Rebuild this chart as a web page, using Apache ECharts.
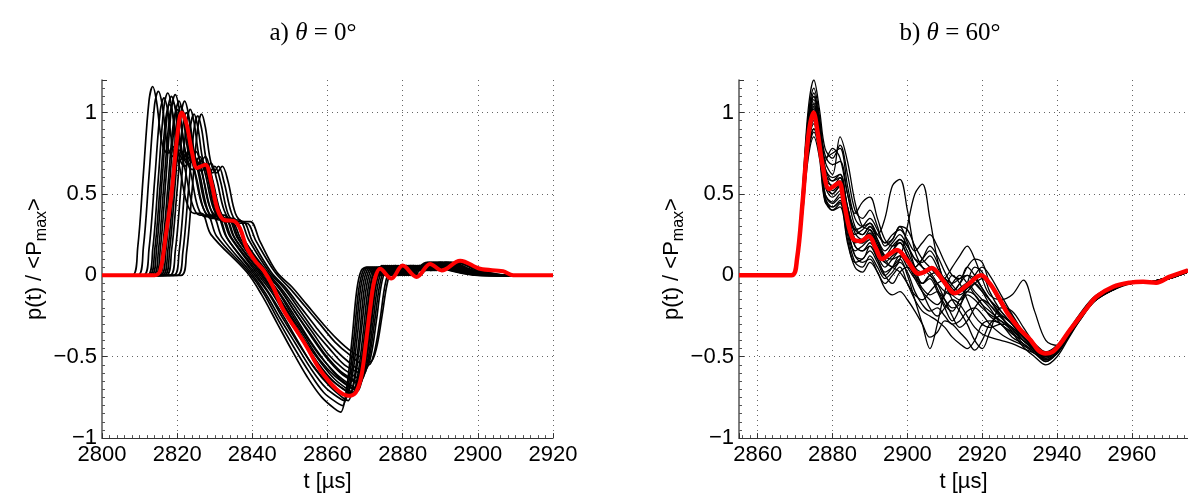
<!DOCTYPE html>
<html><head><meta charset="utf-8">
<script src="https://cdn.jsdelivr.net/npm/echarts@6/dist/echarts.min.js"></script>
<style>html,body{margin:0;padding:0;background:#fff}#c{width:1188px;height:498px}</style>
</head><body><div id="c"></div><script>
// ---------- Panel a) theta = 0 deg : individual records (t [us], p/<Pmax>) ----------
const left01=[[2800,0],[2808,0],[2809.5,0.17],[2811,0.62],[2812.5,1.07],[2813.5,1.16],[2814.5,1.07],[2816,0.81],[2817.5,0.75],[2819,0.79],[2820.5,0.68],[2822.5,0.45],[2824.5,0.38],[2826.5,0.38],[2829,0.25],[2838.5,0.02],[2842.5,-0.12],[2846.5,-0.29],[2850.5,-0.46],[2854.5,-0.62],[2858.5,-0.75],[2862.5,-0.83],[2863.5,-0.84],[2865,-0.71],[2866.5,-0.40],[2867.8,-0.09],[2869,0.03],[2870.5,0.05],[2872.5,0],[2874.5,0.06],[2876.5,0],[2879.5,0.06],[2882.5,0.03],[2886.5,0.08],[2892.5,0.03],[2900.5,0],[2920,0]];
const left02=[[2800,0],[2809.5,0],[2811,0.17],[2812.5,0.61],[2814,1.05],[2815,1.13],[2816,1.05],[2817.5,0.79],[2819,0.73],[2820.5,0.77],[2822,0.66],[2824,0.44],[2826,0.37],[2828,0.37],[2830.5,0.24],[2839,0.02],[2843,-0.11],[2847,-0.28],[2851,-0.44],[2855,-0.59],[2859,-0.72],[2863,-0.79],[2864,-0.80],[2865.5,-0.68],[2867,-0.39],[2868.3,-0.09],[2869.5,0.03],[2871,0.05],[2873,0],[2875,0.06],[2877,0],[2880,0.06],[2883,0.03],[2887,0.08],[2893,0.03],[2901,0],[2920,0]];
const left03=[[2800,0],[2811,0],[2812.5,0.16],[2814,0.58],[2815.5,1.01],[2816.5,1.09],[2817.5,1.01],[2819,0.76],[2820.5,0.70],[2822,0.74],[2823.5,0.64],[2825.5,0.42],[2827.5,0.36],[2829.5,0.36],[2832,0.23],[2839.5,0.02],[2843.5,-0.11],[2847.5,-0.27],[2851.5,-0.42],[2855.5,-0.57],[2859.5,-0.69],[2863.5,-0.76],[2864.5,-0.77],[2866,-0.66],[2867.5,-0.37],[2868.8,-0.08],[2870,0.03],[2871.5,0.05],[2873.5,0],[2875.5,0.06],[2877.5,0],[2880.5,0.06],[2883.5,0.03],[2887.5,0.08],[2893.5,0.03],[2901.5,0],[2920,0]];
const left04=[[2800,0],[2812,0],[2813.5,0.16],[2815,0.60],[2816.5,1.04],[2817.5,1.12],[2818.5,1.04],[2820,0.78],[2821.5,0.72],[2823,0.76],[2824.5,0.65],[2826.5,0.44],[2828.5,0.37],[2830.5,0.37],[2833,0.24],[2840,0.02],[2844,-0.10],[2848,-0.26],[2852,-0.41],[2856,-0.55],[2860,-0.66],[2864,-0.73],[2865,-0.74],[2866.5,-0.63],[2868,-0.36],[2869.3,-0.08],[2870.5,0.03],[2872,0.05],[2874,0],[2876,0.06],[2878,0],[2881,0.06],[2884,0.03],[2888,0.08],[2894,0.03],[2902,0],[2920,0]];
const left05=[[2800,0],[2812.5,0],[2814,0.15],[2815.5,0.56],[2817,0.97],[2818,1.05],[2819,0.97],[2820.5,0.73],[2822,0.67],[2823.5,0.71],[2825,0.61],[2827,0.41],[2829,0.35],[2831,0.35],[2833.5,0.22],[2840.5,0.02],[2844.5,-0.11],[2848.5,-0.26],[2852.5,-0.42],[2856.5,-0.57],[2860.5,-0.68],[2864.5,-0.76],[2865.5,-0.77],[2867,-0.65],[2868.5,-0.37],[2869.8,-0.08],[2871,0.03],[2872.5,0.05],[2874.5,0],[2876.5,0.06],[2878.5,0],[2881.5,0.06],[2884.5,0.03],[2888.5,0.08],[2894.5,0.03],[2902.5,0],[2920,0]];
const left06=[[2800,0],[2813,0],[2814.5,0.16],[2816,0.59],[2817.5,1.02],[2818.5,1.10],[2819.5,1.02],[2821,0.77],[2822.5,0.71],[2824,0.75],[2825.5,0.64],[2827.5,0.43],[2829.5,0.36],[2831.5,0.36],[2834,0.24],[2841,0.02],[2845,-0.10],[2849,-0.25],[2853,-0.39],[2857,-0.53],[2861,-0.64],[2865,-0.71],[2866,-0.72],[2867.5,-0.61],[2869,-0.34],[2870.3,-0.08],[2871.5,0.03],[2873,0.05],[2875,0],[2877,0.06],[2879,0],[2882,0.06],[2885,0.03],[2889,0.08],[2895,0.03],[2903,0],[2920,0]];
const left07=[[2800,0],[2813.5,0],[2815,0.15],[2816.5,0.57],[2818,0.98],[2819,1.06],[2820,0.98],[2821.5,0.74],[2823,0.68],[2824.5,0.72],[2826,0.62],[2828,0.41],[2830,0.35],[2832,0.35],[2834.5,0.23],[2841.5,0.02],[2845.5,-0.10],[2849.5,-0.25],[2853.5,-0.40],[2857.5,-0.54],[2861.5,-0.65],[2865.5,-0.72],[2866.5,-0.73],[2868,-0.62],[2869.5,-0.35],[2870.8,-0.08],[2872,0.03],[2873.5,0.05],[2875.5,0],[2877.5,0.06],[2879.5,0],[2882.5,0.06],[2885.5,0.03],[2889.5,0.08],[2895.5,0.03],[2903.5,0],[2920,0]];
const left08=[[2800,0],[2814,0],[2815.5,0.16],[2817,0.59],[2818.5,1.03],[2819.5,1.11],[2820.5,1.03],[2822,0.78],[2823.5,0.71],[2825,0.76],[2826.5,0.65],[2828.5,0.43],[2830.5,0.37],[2832.5,0.37],[2835,0.24],[2842,0.02],[2846,-0.10],[2850,-0.24],[2854,-0.38],[2858,-0.52],[2862,-0.62],[2866,-0.69],[2867,-0.70],[2868.5,-0.60],[2870,-0.34],[2871.3,-0.08],[2872.5,0.03],[2874,0.05],[2876,0],[2878,0.06],[2880,0],[2883,0.06],[2886,0.03],[2890,0.08],[2896,0.03],[2904,0],[2920,0]];
const left09=[[2800,0],[2814.5,0],[2816,0.15],[2817.5,0.54],[2819,0.94],[2820,1.02],[2821,0.94],[2822.5,0.71],[2824,0.65],[2825.5,0.69],[2827,0.59],[2829,0.40],[2831,0.34],[2833,0.34],[2835.5,0.22],[2842,0.02],[2846,-0.10],[2850,-0.25],[2854,-0.40],[2858,-0.53],[2862,-0.64],[2866,-0.71],[2867,-0.72],[2868.5,-0.61],[2870,-0.35],[2871.3,-0.08],[2872.5,0.03],[2874,0.05],[2876,0],[2878,0.06],[2880,0],[2883,0.06],[2886,0.03],[2890,0.08],[2896,0.03],[2904,0],[2920,0]];
const left10=[[2800,0],[2815,0],[2816.5,0.16],[2818,0.57],[2819.5,0.99],[2820.5,1.07],[2821.5,0.99],[2823,0.75],[2824.5,0.69],[2826,0.73],[2827.5,0.62],[2829.5,0.42],[2831.5,0.35],[2833.5,0.35],[2836,0.23],[2842.5,0.02],[2846.5,-0.09],[2850.5,-0.24],[2854.5,-0.38],[2858.5,-0.51],[2862.5,-0.61],[2866.5,-0.68],[2867.5,-0.69],[2869,-0.58],[2870.5,-0.33],[2871.8,-0.08],[2873,0.03],[2874.5,0.05],[2876.5,0],[2878.5,0.06],[2880.5,0],[2883.5,0.06],[2886.5,0.03],[2890.5,0.08],[2896.5,0.03],[2904.5,0],[2920,0]];
const left11=[[2800,0],[2815.5,0],[2817,0.15],[2818.5,0.56],[2820,0.96],[2821,1.04],[2822,0.96],[2823.5,0.73],[2825,0.67],[2826.5,0.71],[2828,0.61],[2830,0.40],[2832,0.34],[2834,0.34],[2836.5,0.22],[2843,0.02],[2847,-0.10],[2851,-0.24],[2855,-0.39],[2859,-0.52],[2863,-0.63],[2867,-0.70],[2868,-0.71],[2869.5,-0.60],[2871,-0.34],[2872.3,-0.08],[2873.5,0.03],[2875,0.05],[2877,0],[2879,0.06],[2881,0],[2884,0.06],[2887,0.03],[2891,0.08],[2897,0.03],[2905,0],[2920,0]];
const left12=[[2800,0],[2816,0],[2817.5,0.15],[2819,0.54],[2820.5,0.93],[2821.5,1.01],[2822.5,0.93],[2824,0.71],[2825.5,0.65],[2827,0.69],[2828.5,0.59],[2830.5,0.39],[2832.5,0.33],[2834.5,0.33],[2837,0.22],[2843.5,0.02],[2847.5,-0.09],[2851.5,-0.23],[2855.5,-0.37],[2859.5,-0.50],[2863.5,-0.60],[2867.5,-0.66],[2868.5,-0.67],[2870,-0.57],[2871.5,-0.32],[2872.8,-0.07],[2874,0.03],[2875.5,0.05],[2877.5,0],[2879.5,0.06],[2881.5,0],[2884.5,0.06],[2887.5,0.03],[2891.5,0.08],[2897.5,0.03],[2905.5,0],[2920,0]];
const left13=[[2800,0],[2816.5,0],[2818,0.16],[2819.5,0.57],[2821,0.99],[2822,1.07],[2823,0.99],[2824.5,0.75],[2826,0.69],[2827.5,0.73],[2829,0.62],[2831,0.42],[2833,0.35],[2835,0.35],[2837.5,0.23],[2843.5,0.02],[2847.5,-0.09],[2851.5,-0.23],[2855.5,-0.36],[2859.5,-0.49],[2863.5,-0.59],[2867.5,-0.65],[2868.5,-0.66],[2870,-0.56],[2871.5,-0.32],[2872.8,-0.07],[2874,0.03],[2875.5,0.05],[2877.5,0],[2879.5,0.06],[2881.5,0],[2884.5,0.06],[2887.5,0.03],[2891.5,0.08],[2897.5,0.03],[2905.5,0],[2920,0]];
const left14=[[2800,0],[2817,0],[2818.5,0.15],[2820,0.53],[2821.5,0.92],[2822.5,1.00],[2823.5,0.92],[2825,0.70],[2826.5,0.64],[2828,0.68],[2829.5,0.58],[2831.5,0.39],[2833.5,0.33],[2835.5,0.33],[2838,0.21],[2844,0.02],[2848,-0.09],[2852,-0.22],[2856,-0.35],[2860,-0.48],[2864,-0.57],[2868,-0.63],[2869,-0.64],[2870.5,-0.55],[2872,-0.31],[2873.3,-0.07],[2874.5,0.03],[2876,0.05],[2878,0],[2880,0.06],[2882,0],[2885,0.06],[2888,0.03],[2892,0.08],[2898,0.03],[2906,0],[2920,0]];
const left15=[[2800,0],[2818,0],[2819.5,0.15],[2821,0.54],[2822.5,0.94],[2823.5,1.02],[2824.5,0.94],[2826,0.71],[2827.5,0.65],[2829,0.69],[2830.5,0.59],[2832.5,0.40],[2834.5,0.34],[2836.5,0.34],[2839,0.22],[2844.5,0.02],[2848.5,-0.08],[2852.5,-0.21],[2856.5,-0.34],[2860.5,-0.45],[2864.5,-0.55],[2868.5,-0.60],[2869.5,-0.61],[2871,-0.52],[2872.5,-0.29],[2873.8,-0.07],[2875,0.03],[2876.5,0.05],[2878.5,0],[2880.5,0.06],[2882.5,0],[2885.5,0.06],[2888.5,0.03],[2892.5,0.08],[2898.5,0.03],[2906.5,0],[2920,0]];
const left16=[[2800,0],[2819,0],[2820.5,0.14],[2822,0.53],[2823.5,0.91],[2824.5,0.99],[2825.5,0.91],[2827,0.69],[2828.5,0.63],[2830,0.67],[2831.5,0.58],[2833.5,0.38],[2835.5,0.33],[2837.5,0.33],[2840,0.21],[2845,0.02],[2849,-0.08],[2853,-0.20],[2857,-0.32],[2861,-0.43],[2865,-0.52],[2869,-0.58],[2870,-0.58],[2871.5,-0.50],[2873,-0.28],[2874.3,-0.06],[2875.5,0.03],[2877,0.05],[2879,0],[2881,0.06],[2883,0],[2886,0.06],[2889,0.03],[2893,0.08],[2899,0.03],[2907,0],[2920,0]];
const left17=[[2800,0],[2820,0],[2821.5,0.14],[2823,0.52],[2824.5,0.90],[2825.5,0.98],[2826.5,0.90],[2828,0.68],[2829.5,0.63],[2831,0.67],[2832.5,0.57],[2834.5,0.38],[2836.5,0.32],[2838.5,0.32],[2841,0.21],[2846,0.02],[2850,-0.08],[2854,-0.19],[2858,-0.30],[2862,-0.41],[2866,-0.49],[2870,-0.55],[2871,-0.55],[2872.5,-0.47],[2874,-0.27],[2875.3,-0.06],[2876.5,0.03],[2878,0.05],[2880,0],[2882,0.06],[2884,0],[2887,0.06],[2890,0.03],[2894,0.08],[2900,0.03],[2908,0],[2920,0]];
const left18=[[2800,0],[2821,0],[2822.5,0.14],[2824,0.53],[2825.5,0.91],[2826.5,0.99],[2827.5,0.91],[2829,0.69],[2830.5,0.63],[2832,0.67],[2833.5,0.58],[2835.5,0.38],[2837.5,0.33],[2839.5,0.33],[2842,0.21],[2846.5,0.02],[2850.5,-0.07],[2854.5,-0.18],[2858.5,-0.29],[2862.5,-0.39],[2866.5,-0.47],[2870.5,-0.52],[2871.5,-0.53],[2873,-0.45],[2874.5,-0.25],[2875.8,-0.06],[2877,0.03],[2878.5,0.05],[2880.5,0],[2882.5,0.06],[2884.5,0],[2887.5,0.06],[2890.5,0.03],[2894.5,0.08],[2900.5,0.03],[2908.5,0],[2920,0]];
// ensemble mean (red)
const leftMean=[[2800,0],[2814,0],[2815.5,0.03],[2817,0.25],[2818.5,0.5],[2820,0.85],[2821.2,1.0],[2822.5,0.93],[2824,0.75],[2825.3,0.66],[2827.5,0.68],[2829,0.58],[2830.8,0.40],[2832.5,0.34],[2835,0.335],[2836.7,0.29],[2838.5,0.17],[2840.7,0.09],[2843,0.03],[2845.5,-0.07],[2848.2,-0.21],[2851.8,-0.34],[2854.5,-0.44],[2858,-0.58],[2862.4,-0.70],[2865.5,-0.74],[2867.5,-0.72],[2869,-0.62],[2870.3,-0.40],[2871.3,-0.21],[2872.5,-0.03],[2874,0.04],[2877,-0.02],[2880,0.06],[2883.7,-0.01],[2887.3,0.07],[2890.4,0.03],[2895.3,0.09],[2900.6,0.04],[2906.7,0.025],[2909.4,0],[2920,0]];

// ---------- Panel b) theta = 60 deg : records on a common time base ----------
const rightTimes=[2855,2869,2870.5,2872,2873.5,2875,2876.5,2878,2880,2882,2884,2886,2888,2890,2892,2894,2896,2898,2900,2902,2904,2906,2908,2910,2912,2914,2916,2918,2920,2922,2925,2928,2931,2934,2937,2940,2943,2946,2950,2955,2960,2965,2970,2975];
const right01=[0,0,0.1,0.54,1.02,1.2,1.02,0.78,0.72,0.80,0.62,0.40,0.35,0.40,0.30,0.18,0.22,0.30,0.20,0.05,-0.05,0.0,-0.08,-0.18,-0.22,-0.15,-0.10,-0.12,-0.18,-0.25,-0.30,-0.36,-0.40,-0.45,-0.50,-0.46,-0.36,-0.26,-0.15,-0.08,-0.05,-0.05,-0.02,0.02];
const right02=[0,0,0.1,0.52,0.98,1.15,0.98,0.70,0.62,0.85,0.70,0.45,0.30,0.28,0.20,0.10,0.05,0.10,0.30,0.50,0.56,0.35,0.10,-0.05,-0.10,-0.05,0.05,0.0,-0.08,-0.15,-0.24,-0.30,-0.38,-0.44,-0.52,-0.47,-0.37,-0.27,-0.15,-0.09,-0.05,-0.04,-0.01,0.03];
const right03=[0,0,0.1,0.50,0.94,1.1,0.94,0.66,0.58,0.62,0.42,0.28,0.25,0.30,0.25,0.35,0.55,0.59,0.40,0.15,0.05,0.0,-0.05,-0.10,-0.12,-0.08,-0.05,-0.10,-0.15,-0.20,-0.30,-0.35,-0.42,-0.47,-0.53,-0.48,-0.38,-0.28,-0.16,-0.08,-0.05,-0.05,-0.02,0.02];
const right04=[0,0,0.1,0.47,0.89,1.05,0.89,0.60,0.50,0.55,0.35,0.20,0.22,0.26,0.18,0.10,0.15,0.20,0.12,0.02,-0.05,-0.02,-0.10,-0.20,-0.28,-0.20,-0.05,0.05,0.02,-0.10,-0.22,-0.30,-0.38,-0.45,-0.50,-0.45,-0.35,-0.25,-0.14,-0.07,-0.04,-0.04,-0.01,0.03];
const right05=[0,0,0.1,0.45,0.85,1.0,0.85,0.55,0.48,0.52,0.30,0.12,0.10,0.18,0.10,0.02,0.05,0.10,0.0,-0.15,-0.30,-0.45,-0.30,-0.10,0.0,-0.05,-0.15,-0.25,-0.30,-0.32,-0.30,-0.32,-0.40,-0.46,-0.51,-0.46,-0.36,-0.26,-0.15,-0.08,-0.05,-0.04,-0.02,0.02];
const right06=[0,0,0.1,0.43,0.81,0.95,0.81,0.50,0.44,0.48,0.28,0.15,0.18,0.22,0.15,0.08,0.12,0.15,0.10,0.05,0.10,0.15,0.08,-0.05,-0.15,-0.22,-0.30,-0.40,-0.45,-0.35,-0.20,-0.22,-0.32,-0.42,-0.49,-0.45,-0.35,-0.25,-0.14,-0.07,-0.05,-0.04,-0.01,0.03];
const right07=[0,0,0.1,0.41,0.77,0.9,0.77,0.48,0.42,0.45,0.25,0.08,0.05,0.12,0.05,-0.02,0.02,0.08,0.02,-0.10,-0.18,-0.22,-0.20,-0.25,-0.30,-0.28,-0.22,-0.20,-0.24,-0.30,-0.36,-0.40,-0.43,-0.48,-0.53,-0.48,-0.38,-0.27,-0.16,-0.09,-0.05,-0.05,-0.02,0.02];
const right08=[0,0,0.1,0.38,0.72,0.85,0.72,0.45,0.42,0.46,0.28,0.12,0.08,0.10,0.02,-0.05,0.0,0.05,-0.05,-0.15,-0.22,-0.25,-0.28,-0.32,-0.38,-0.42,-0.45,-0.40,-0.30,-0.28,-0.30,-0.38,-0.42,-0.47,-0.52,-0.47,-0.37,-0.27,-0.15,-0.08,-0.05,-0.04,-0.01,0.03];
const right09=[0,0,0.1,0.49,0.92,1.08,0.92,0.72,0.75,0.78,0.55,0.35,0.30,0.32,0.25,0.20,0.25,0.28,0.22,0.15,0.20,0.25,0.18,0.08,0.0,-0.02,0.05,0.10,0.08,-0.05,-0.18,-0.28,-0.36,-0.42,-0.47,-0.43,-0.34,-0.24,-0.13,-0.07,-0.04,-0.04,-0.01,0.03];
const right10=[0,0,0.1,0.46,0.87,1.02,0.87,0.62,0.58,0.60,0.40,0.22,0.20,0.25,0.18,0.12,0.18,0.22,0.15,0.05,0.02,0.05,0.0,-0.06,-0.12,-0.15,-0.10,-0.05,-0.02,-0.06,-0.15,-0.25,-0.35,-0.43,-0.48,-0.44,-0.35,-0.25,-0.14,-0.07,-0.05,-0.04,-0.01,0.03];
const right11=[0,0,0.1,0.44,0.83,0.98,0.83,0.58,0.52,0.56,0.38,0.25,0.28,0.32,0.22,0.12,0.10,0.12,0.05,-0.02,-0.05,0.0,0.02,-0.02,-0.08,-0.12,-0.08,0.0,0.05,0.0,-0.12,-0.24,-0.35,-0.44,-0.49,-0.44,-0.35,-0.25,-0.14,-0.07,-0.04,-0.04,-0.01,0.03];
const right12=[0,0,0.1,0.46,0.88,1.03,0.88,0.64,0.55,0.58,0.36,0.18,0.15,0.20,0.12,0.05,0.10,0.15,0.08,-0.02,-0.10,-0.15,-0.18,-0.12,-0.05,0.0,-0.05,-0.12,-0.18,-0.22,-0.28,-0.34,-0.40,-0.46,-0.50,-0.46,-0.36,-0.26,-0.15,-0.08,-0.05,-0.04,-0.02,0.02];
const right13=[0,0,0.1,0.50,0.95,1.12,0.95,0.74,0.68,0.70,0.50,0.30,0.25,0.30,0.22,0.15,0.20,0.25,0.18,0.10,0.08,0.12,0.05,-0.05,-0.10,-0.05,0.0,-0.02,-0.08,-0.15,-0.25,-0.33,-0.40,-0.46,-0.51,-0.46,-0.36,-0.26,-0.15,-0.08,-0.05,-0.04,-0.01,0.03];
const right14=[0,0,0.1,0.42,0.79,0.93,0.79,0.50,0.45,0.50,0.32,0.18,0.15,0.18,0.10,0.00,-0.05,0.02,0.05,0.0,-0.08,-0.12,-0.10,-0.15,-0.20,-0.18,-0.12,-0.15,-0.20,-0.24,-0.28,-0.32,-0.38,-0.44,-0.49,-0.45,-0.35,-0.25,-0.14,-0.07,-0.04,-0.04,-0.01,0.03];
const right15=[0,0,0.1,0.48,0.90,1.06,0.90,0.66,0.60,0.62,0.42,0.26,0.22,0.28,0.20,0.12,0.15,0.22,0.18,0.10,0.05,0.02,-0.05,-0.15,-0.25,-0.32,-0.28,-0.20,-0.15,-0.18,-0.25,-0.35,-0.44,-0.50,-0.55,-0.50,-0.39,-0.28,-0.16,-0.09,-0.05,-0.05,-0.02,0.02];
const right16=[0,0,0.1,0.40,0.75,0.88,0.75,0.46,0.40,0.42,0.20,0.05,0.02,0.08,0.02,-0.08,-0.12,-0.10,-0.15,-0.22,-0.30,-0.38,-0.35,-0.28,-0.30,-0.35,-0.40,-0.46,-0.40,-0.30,-0.25,-0.30,-0.38,-0.45,-0.50,-0.46,-0.36,-0.26,-0.15,-0.08,-0.05,-0.04,-0.02,0.02];
const right17=[0,0,0.1,0.50,0.94,1.1,0.94,0.70,0.78,0.72,0.50,0.38,0.45,0.48,0.35,0.22,0.18,0.20,0.12,0.05,0.10,0.18,0.12,0.02,-0.06,-0.10,-0.08,-0.05,-0.10,-0.18,-0.26,-0.32,-0.38,-0.45,-0.50,-0.45,-0.36,-0.26,-0.14,-0.07,-0.04,-0.04,-0.01,0.03];
const right18=[0,0,0.1,0.44,0.82,0.97,0.82,0.56,0.50,0.55,0.38,0.22,0.20,0.24,0.16,0.08,0.05,0.02,-0.05,-0.12,-0.15,-0.10,-0.05,-0.02,0.05,0.12,0.18,0.10,-0.02,-0.12,-0.15,-0.12,-0.03,-0.22,-0.40,-0.43,-0.36,-0.26,-0.15,-0.08,-0.05,-0.04,-0.01,0.03];
const right19=[0,0,0.1,0.47,0.88,1.04,0.88,0.60,0.55,0.60,0.42,0.28,0.30,0.35,0.28,0.20,0.22,0.30,0.28,0.18,0.10,0.05,0.0,-0.02,-0.05,-0.02,0.0,-0.05,-0.10,-0.15,-0.22,-0.30,-0.38,-0.44,-0.49,-0.45,-0.35,-0.25,-0.14,-0.07,-0.04,-0.04,-0.01,0.03];
const right20=[0,0,0.1,0.41,0.77,0.9,0.77,0.48,0.40,0.44,0.22,0.08,0.10,0.15,0.08,0.0,0.05,0.12,0.08,0.0,-0.10,-0.20,-0.25,-0.20,-0.15,-0.18,-0.25,-0.32,-0.36,-0.38,-0.40,-0.42,-0.45,-0.48,-0.52,-0.48,-0.38,-0.27,-0.16,-0.09,-0.05,-0.05,-0.02,0.02];
const rightMean=[[2855,0],[2869,0],[2870.5,0.1],[2872,0.45],[2873.5,0.85],[2874.9,1.0],[2876,0.88],[2877.3,0.68],[2879.1,0.53],[2880.5,0.55],[2881.8,0.57],[2883,0.45],[2885.3,0.23],[2887.5,0.21],[2889.7,0.24],[2891.5,0.17],[2893.2,0.10],[2895.2,0.13],[2897.2,0.155],[2900,0.09],[2903,0.01],[2904.5,0.02],[2906.5,0.045],[2909.5,-0.03],[2912.7,-0.11],[2916,-0.06],[2919.7,0.0],[2922,-0.05],[2924.5,-0.14],[2926.8,-0.235],[2930,-0.33],[2933,-0.40],[2935,-0.46],[2936.9,-0.48],[2938.8,-0.47],[2940.9,-0.42],[2943,-0.35],[2945.3,-0.28],[2948,-0.2],[2950.6,-0.13],[2955,-0.07],[2959.5,-0.045],[2963,-0.04],[2966.5,-0.045],[2970,-0.01],[2975,0.03]];

const leftRecords=[left01,left02,left03,left04,left05,left06,left07,left08,left09,left10,left11,left12,left13,left14,left15,left16,left17,left18];
const rightRecords=[right01,right02,right03,right04,right05,right06,right07,right08,right09,right10,right11,right12,right13,right14,right15,right16,right17,right18,right19,right20];
const titles=['a) ', ' = 0°', 'b) ', ' = 60°'];
const xName='t [µs]';

const SANS='"Liberation Sans", Arial, sans-serif';
const SERIF='"Liberation Serif", "DejaVu Serif", serif';
const chart=echarts.init(document.getElementById('c'),null,{renderer:'canvas'});

function xAxis(gi,min,max,interval){
  const a={type:'value',gridIndex:gi,min:min,max:max,
    name:xName,nameLocation:'middle',nameGap:28,
    nameTextStyle:{fontFamily:SANS,fontSize:22,color:'#000'},
    axisLine:{show:true,onZero:false,lineStyle:{color:'#333',width:1}},
    axisTick:{show:true,inside:true,length:5,lineStyle:{color:'#333'}},
    minorTick:{show:true,splitNumber:10,length:3,lineStyle:{color:'#555'}},
    axisLabel:{fontFamily:SANS,fontSize:22,color:'#000',margin:6,showMinLabel:gi===0,showMaxLabel:gi===0,
      formatter:v=>String(v)},
    splitLine:{show:true,showMinLine:false,showMaxLine:gi===0,lineStyle:{type:[1,4],color:'#666',width:1}}};
  if(interval) a.interval=interval;
  return a;
}
function yAxis(gi){
  return {type:'value',gridIndex:gi,min:-1,max:1.2,interval:0.5,
    name:'{a|p(t) / <P}{s|max}{a|>}',nameLocation:'middle',nameGap:52,nameRotate:90,
    nameTextStyle:{rich:{a:{fontFamily:SANS,fontSize:22,color:'#000',lineHeight:30,verticalAlign:'middle'},
                         s:{fontFamily:SANS,fontSize:16,color:'#000',lineHeight:16,verticalAlign:'bottom'}}},
    axisLine:{show:true,onZero:false,lineStyle:{color:'#555',width:1.5}},
    axisTick:{show:true,inside:true,length:5,lineStyle:{color:'#333'}},
    minorTick:{show:true,splitNumber:10,length:3,lineStyle:{color:'#555'}},
    axisLabel:{fontFamily:SANS,fontSize:22,color:'#000',margin:5,showMaxLabel:false,
      formatter:v=>String(v).replace('-','\u2212')},
    splitLine:{show:true,showMinLine:false,showMaxLine:false,lineStyle:{type:[1,4],color:'#666',width:1}}};
}

const series=[];
leftRecords.forEach(d=>series.push({type:'line',xAxisIndex:0,yAxisIndex:0,data:d,showSymbol:false,smooth:0.35,
  lineStyle:{color:'#000',width:1.7},z:2,silent:true}));
series.push({type:'line',xAxisIndex:0,yAxisIndex:0,data:leftMean,showSymbol:false,smooth:0.35,
  lineStyle:{color:'#ff0000',width:4},z:5,silent:true});
rightRecords.forEach(v=>series.push({type:'line',xAxisIndex:1,yAxisIndex:1,
  data:rightTimes.map((t,i)=>[t,v[i]]),showSymbol:false,smooth:0.35,
  lineStyle:{color:'#000',width:1.3},z:2,silent:true}));
series.push({type:'line',xAxisIndex:1,yAxisIndex:1,data:rightMean,showSymbol:false,smooth:0.35,
  lineStyle:{color:'#ff0000',width:4.5},z:5,silent:true});

const titleRich={n:{fontFamily:SERIF,fontSize:25,fontWeight:'normal',color:'#000'},i:{fontFamily:SERIF,fontSize:25,fontStyle:'italic',fontWeight:'normal',color:'#000'}};
chart.setOption({
  animation:false,backgroundColor:'#fff',
  title:[
    {text:'{n|'+titles[0]+'}{i|θ}{n|'+titles[1]+'}',left:308,top:16,textAlign:'center',textStyle:{fontWeight:'normal',rich:titleRich}},
    {text:'{n|'+titles[2]+'}{i|θ}{n|'+titles[3]+'}',left:945,top:16,textAlign:'center',textStyle:{fontWeight:'normal',rich:titleRich}}
  ],
  grid:[{left:102,top:80,width:451,height:361},{left:739,top:80,width:453,height:361}],
  xAxis:[xAxis(0,2800,2920,20),xAxis(1,2855,2975,null)],
  yAxis:[yAxis(0),yAxis(1)],
  series:series
});
</script></body></html>
